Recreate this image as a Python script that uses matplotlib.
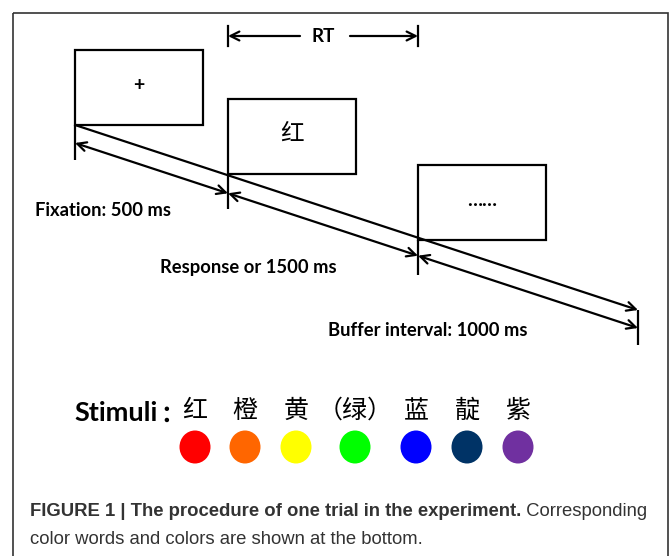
import matplotlib.pyplot as plt
from matplotlib.patches import Rectangle, Ellipse

# --- data: stimulus words, their colours, and the phase labels
words = ['红', '橙', '黄', '（绿）', '蓝', '靛', '紫']
colors = ['#ff0000', '#ff6600', '#ffff00', '#00ff00', '#0000ff', '#003366', '#7030a0']
screens = ['+', '红', '……']
phases = ['Fixation: 500 ms', 'Response or 1500 ms', 'Buffer interval: 1000 ms']
caption_bold = 'FIGURE 1 | The procedure of one trial in the experiment.'
caption_rest = ' Corresponding'
caption_line2 = 'color words and colors are shown at the bottom.'

# --- layout (pixel coordinates, y grows downwards)
W, H = 672, 556
box_x = [75, 228, 418]
box_y = [50, 99, 165]
box_w, box_h = 128, 75
end_x = 638
phase_xy = [(35, 210), (160, 267), (328, 331)]
word_x = [195, 245, 296, 355, 416, 467, 518]

LW = 1.6
LBL = ['Lato', 'Noto Sans CJK SC', 'DejaVu Sans']
CJK = ['Noto Sans CJK SC', 'DejaVu Sans']

fig = plt.figure(figsize=(W / 100, H / 100), dpi=100)
ax = fig.add_axes([0, 0, 1, 1])
ax.set_xlim(0, W)
ax.set_ylim(H, 0)
ax.axis('off')

# --- outer frame
ax.add_patch(Rectangle((13, 13), 655, 600, fill=False, ec='#333333', lw=1.2))

# --- screens
for x, y, s in zip(box_x, box_y, screens):
    ax.add_patch(Rectangle((x, y), box_w, box_h, fill=False, ec='black', lw=LW))
    fam = CJK if s == '红' else LBL
    fs = 17 if s == '红' else 14
    ax.text(x + box_w / 2, y + box_h / 2 - 2, s, ha='center', va='center',
            fontsize=fs, family=fam, fontweight='bold' if s != '红' else 'light')

# --- time axis (top diagonal)
y0 = box_y[0] + box_h
y_end = 310
slope = (y_end - y0) / (end_x - box_x[0])
ax.annotate('', xy=(end_x, y_end), xytext=(box_x[0], y0),
            arrowprops=dict(arrowstyle='->', lw=LW, color='black',
                            mutation_scale=16, shrinkA=0, shrinkB=0))

# --- vertical ticks and duration arrows
tick_x = box_x + [end_x]
tick_top = [box_y[0] + box_h, box_y[1] + box_h, box_y[2] + box_h, y_end]
for x, t in zip(tick_x, tick_top):
    ax.plot([x, x], [t, t + 35], color='black', lw=LW, solid_capstyle='butt')

off = 18
for i in range(3):
    xa, xb = tick_x[i], tick_x[i + 1]
    ya = box_y[0] + box_h + off + slope * (xa - box_x[0])
    yb = box_y[0] + box_h + off + slope * (xb - box_x[0])
    ax.annotate('', xy=(xb, yb), xytext=(xa, ya),
                arrowprops=dict(arrowstyle='<->', lw=LW, color='black',
                                mutation_scale=16, shrinkA=0, shrinkB=0))

for (x, y), s in zip(phase_xy, phases):
    ax.text(x, y, s, ha='left', va='center', fontsize=13.2,
            family=LBL, fontweight='bold')

# --- RT marker
for x in (box_x[1], box_x[2]):
    ax.plot([x, x], [26, 46], color='black', lw=LW)
ax.annotate('', xy=(box_x[1], 36), xytext=(300, 36),
            arrowprops=dict(arrowstyle='->', lw=LW, color='black',
                            mutation_scale=16, shrinkA=0, shrinkB=0))
ax.annotate('', xy=(box_x[2], 36), xytext=(350, 36),
            arrowprops=dict(arrowstyle='->', lw=LW, color='black',
                            mutation_scale=16, shrinkA=0, shrinkB=0))
ax.text(323, 36, 'RT', ha='center', va='center', fontsize=13.5,
        family=LBL, fontweight='bold')

# --- stimuli
ax.text(74, 413, 'Stimuli', ha='left', va='center', fontsize=19.5,
        family=LBL, fontweight='bold')
ax.text(160, 415, '：', ha='left', va='center', fontsize=17,
        family=CJK, fontweight='bold')
for x, w, c in zip(word_x, words, colors):
    ax.text(x, 411, w, ha='center', va='center', fontsize=18, family=CJK)
    ax.add_patch(Ellipse((x, 447), 31, 33, fc=c, ec='none'))

# --- caption
t1 = ax.text(30, 512, caption_bold, ha='left', va='center', fontsize=13.3,
             family='Liberation Sans', fontweight='bold', color='#333333')
fig.canvas.draw()
bb = t1.get_window_extent()
x_end = ax.transData.inverted().transform((bb.x1, bb.y0))[0]
ax.text(x_end, 512, caption_rest, ha='left', va='center', fontsize=13.3,
        family='Liberation Sans', color='#333333')
ax.text(30, 540, caption_line2, ha='left', va='center', fontsize=13.3,
        family='Liberation Sans', color='#333333')

fig.savefig('out.png', dpi=100)
